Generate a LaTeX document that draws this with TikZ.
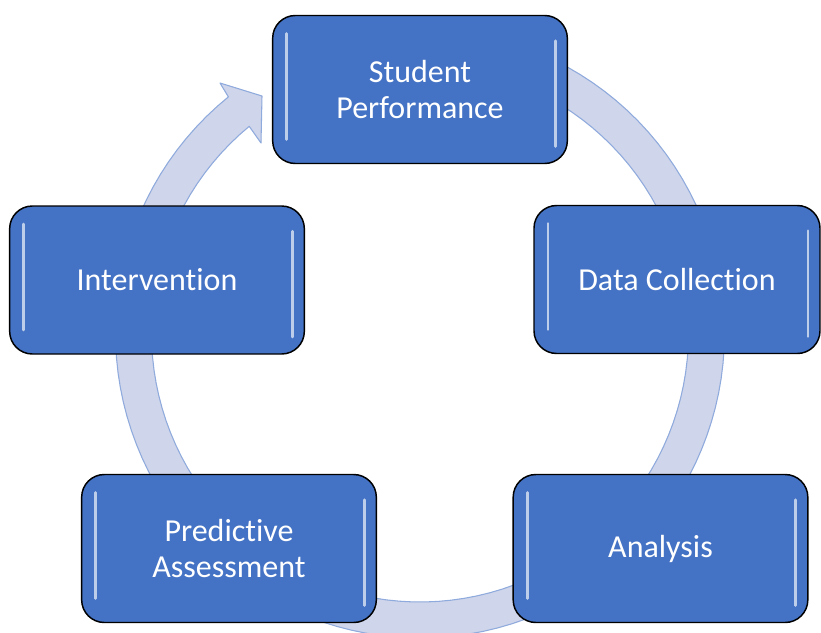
\documentclass[tikz,border=0pt]{standalone}
\usepackage{fontspec}
\setmainfont{Carlito}[Ligatures=NoCommon]
\definecolor{stageblue}{HTML}{4472C4}
\definecolor{ringfill}{HTML}{CFD5EA}
\definecolor{ringline}{HTML}{8FAADC}
\tikzset{
  stage/.style={draw=black, line width=1.1pt, fill=stageblue, rounded corners=17pt,
    minimum width=221pt, minimum height=111pt, text=white, align=center,
    font=\fontsize{24}{26.5}\selectfont,
    path picture={
      \draw[line width=2.2pt, line cap=round, white!65!stageblue]
        ([xshift=10.5pt, yshift=-13.5pt]path picture bounding box.north west)
        -- ([xshift=10.5pt, yshift=18pt]path picture bounding box.south west);
      \draw[line width=2.2pt, line cap=round, white!65!stageblue]
        ([xshift=-9pt, yshift=-19pt]path picture bounding box.north east)
        -- ([xshift=-9pt, yshift=12.75pt]path picture bounding box.south east);
    }},
  ring/.style={fill=ringfill, draw=ringline, line width=0.8pt, line join=round}
}
\begin{document}
\begin{tikzpicture}[x=0.75pt, y=-0.75pt]
  \useasboundingbox (0, 0) rectangle (821, 632);
  \draw[ring] plot[domain=260:591, samples=120] ({420 + 304.5*cos(\x)}, {333.5 + 304.5*sin(\x)})
    -- (220, 83) -- (262, 96) -- (261, 143) -- (249.2, 126.3)
    -- plot[domain=590.5:260, samples=120] ({420 + 268.5*cos(\x)}, {333.5 + 268.5*sin(\x)})
    -- cycle;
  \node[stage] (perf) at (420, 89.5) {Student\\Performance};
  \node[stage, minimum width=214.5pt] (data) at (677, 279.5) {Data Collection};
  \node[stage] (analysis) at (660.5, 548.5) {Analysis};
  \node[stage] (predict) at (229, 548.5) {Predictive\\Assessment};
  \node[stage] (interv) at (157, 280) {Intervention};
\end{tikzpicture}
\end{document}
